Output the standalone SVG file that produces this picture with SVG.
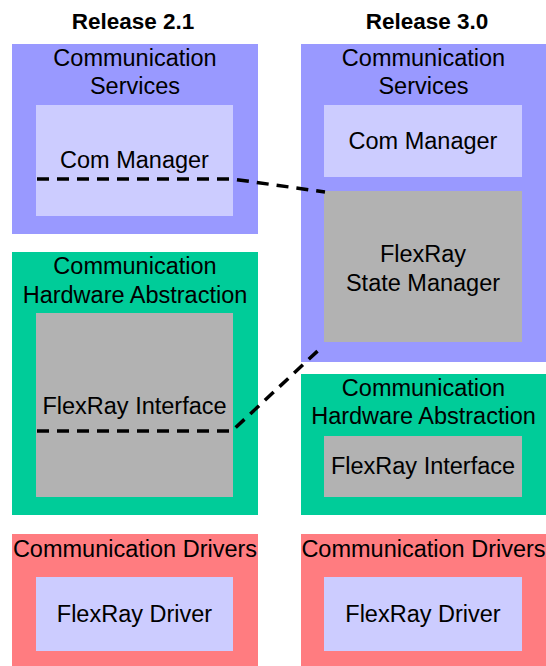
<svg xmlns="http://www.w3.org/2000/svg" width="546" height="666" viewBox="0 0 546 666">
<style>
text{font-family:"Liberation Sans",Arial,sans-serif;font-size:23.5px;fill:#000;text-anchor:middle}
.hd{font-weight:bold;font-size:22.5px}
.svc{fill:#9999FF}
.lav{fill:#CCCCFF}
.gry{fill:#B2B2B2}
.hwa{fill:#00CC99}
.drv{fill:#FF7C80}
.dash{fill:none;stroke:#000;stroke-width:3.5;stroke-dasharray:12 8}
</style>
<rect width="546" height="666" fill="#fff"/>
<text class="hd" x="133" y="29">Release 2.1</text>
<text class="hd" x="427" y="29">Release 3.0</text>
<g id="left-services">
<rect class="svc" x="12" y="44" width="246" height="190"/>
<text x="135" y="66">Communication</text>
<text x="135" y="94">Services</text>
</g>
<g id="left-com-manager">
<rect class="lav" x="36" y="105" width="197" height="111"/>
<text x="134.5" y="168">Com Manager</text>
</g>
<g id="left-hwa">
<rect class="hwa" x="12" y="252" width="246" height="263"/>
<text x="135" y="274">Communication</text>
<text x="135" y="303">Hardware Abstraction</text>
</g>
<g id="left-interface">
<rect class="gry" x="36" y="313" width="197" height="184"/>
<text x="134.5" y="414">FlexRay Interface</text>
</g>
<g id="left-drivers">
<rect class="drv" x="12" y="534" width="246" height="132"/>
<text x="135" y="557">Communication Drivers</text>
</g>
<g id="left-driver">
<rect class="lav" x="36" y="577" width="197" height="74"/>
<text x="134.5" y="622">FlexRay Driver</text>
</g>
<g id="right-services">
<rect class="svc" x="301" y="44" width="245" height="318"/>
<text x="423.5" y="66">Communication</text>
<text x="423.5" y="94">Services</text>
</g>
<g id="right-com-manager">
<rect class="lav" x="324" y="105" width="198" height="72"/>
<text x="423" y="149">Com Manager</text>
</g>
<g id="right-state-manager">
<rect class="gry" x="324" y="191" width="198" height="151"/>
<text x="423" y="262">FlexRay</text>
<text x="423" y="291">State Manager</text>
</g>
<g id="right-hwa">
<rect class="hwa" x="301" y="374" width="245" height="141"/>
<text x="423.5" y="396">Communication</text>
<text x="423.5" y="424">Hardware Abstraction</text>
</g>
<g id="right-interface">
<rect class="gry" x="324" y="436" width="198" height="61"/>
<text x="423" y="474">FlexRay Interface</text>
</g>
<g id="right-drivers">
<rect class="drv" x="301" y="534" width="245" height="132"/>
<text x="423.5" y="557">Communication Drivers</text>
</g>
<g id="right-driver">
<rect class="lav" x="324" y="577" width="198" height="74"/>
<text x="423" y="622">FlexRay Driver</text>
</g>
<g id="connectors">
<path class="dash" d="M37 179 H232 L325 192"/>
<path class="dash" d="M37 431 H232 L323 346"/>
</g>
</svg>
